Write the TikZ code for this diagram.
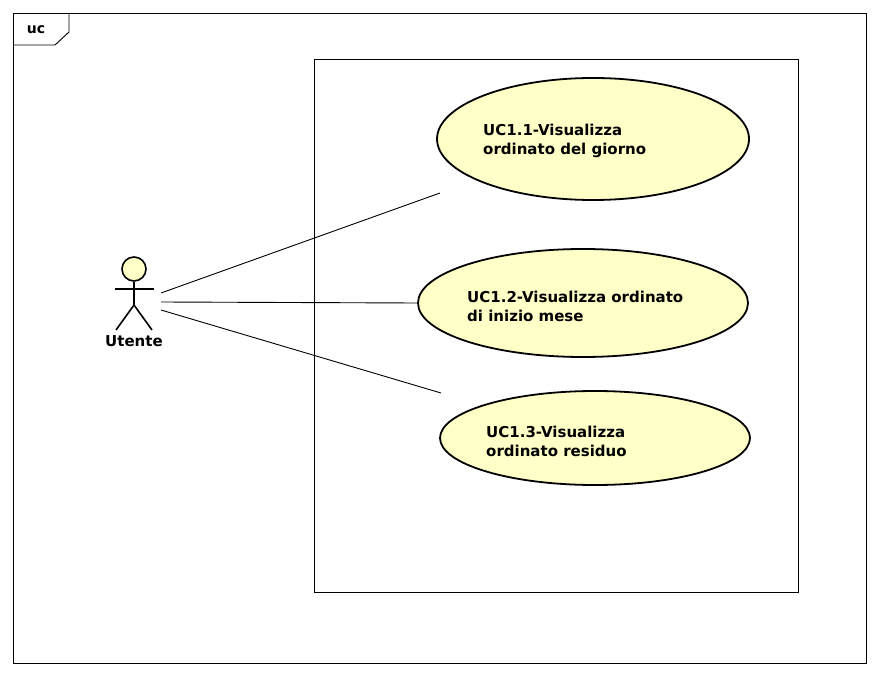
\documentclass[tikz,border=0pt]{standalone}
\usepackage{fontspec}
\setmainfont{DejaVu Sans}
\usetikzlibrary{shapes.geometric}
\definecolor{ucfill}{RGB}{255,255,200}
\begin{document}
\begin{tikzpicture}[x=1pt,y=-1pt,
  usecase/.style={ellipse,draw,line width=1.8pt,fill=ucfill,inner sep=0pt},
  uctext/.style={anchor=west,align=left,inner sep=0pt,font=\fontsize{15}{19}\selectfont\bfseries},
  thin1/.style={line width=0.9pt}]
\useasboundingbox (0,0) rectangle (880,676);
% frame
\draw[thin1] (13,13) rectangle (866,663);
\draw[thin1] (69,13) -- (69,32) -- (55,45) -- (13,45);
\node[font=\fontsize{14}{16}\selectfont\bfseries,inner sep=0pt] (uc) at (36,30) {uc};
% system boundary
\node[draw,thin1,minimum width=484pt,minimum height=533pt,inner sep=0pt,anchor=north west] (sys) at (314,59) {};
% use cases
\node[usecase,minimum width=312pt,minimum height=122pt] (u1) at (593,139) {};
\node[usecase,minimum width=330pt,minimum height=108pt] (u2) at (583,303) {};
\node[usecase,minimum width=310pt,minimum height=94pt] (u3) at (595,438) {};
\node[uctext] (t1) at (483,140.5) {UC1.1-Visualizza\\ordinato del giorno};
\node[uctext] (t2) at (467,306) {UC1.2-Visualizza ordinato\\di inizio mese};
\node[uctext] (t3) at (486,441) {UC1.3-Visualizza\\ordinato residuo};
% actor
\node[circle,draw,line width=1.6pt,fill=ucfill,minimum size=24pt,inner sep=0pt] (head) at (134,269) {};
\coordinate (hip) at (134,305);
\coordinate (armL) at (115,289);
\coordinate (armR) at (154,289);
\coordinate (legL) at (116,330);
\coordinate (legR) at (152,330);
\draw[line width=1.6pt] (head.south) -- (hip);
\draw[line width=1.6pt] (armL) -- (armR);
\draw[line width=1.6pt] (legL) -- (hip) -- (legR);
\node[font=\fontsize{15}{17}\selectfont\bfseries,inner sep=0pt] (actor) at (134,341) {Utente};
% associations
\coordinate (a1) at (161,293);
\coordinate (a2) at (161,302);
\coordinate (a3) at (161,310);
\coordinate (e1) at (440,193);
\coordinate (e3) at (441,393);
\draw[thin1] (a1) -- (e1);
\draw[thin1] (a2) -- (u2.west);
\draw[thin1] (a3) -- (e3);
\end{tikzpicture}
\end{document}
